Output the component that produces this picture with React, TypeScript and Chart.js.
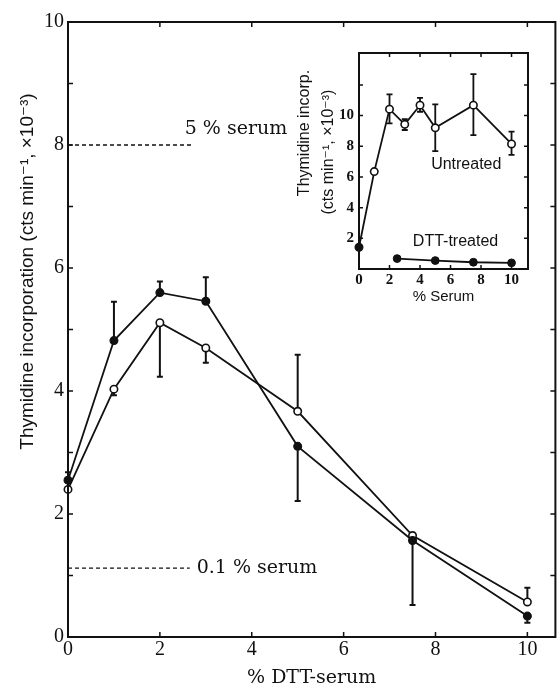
import React, { useEffect, useRef } from 'react';
import { Chart, registerables } from 'chart.js';

Chart.register(...registerables);

// ---------- Main panel data ----------
const dttSerumPct = [0, 1, 2, 3, 5, 7.5, 10];
const filledY = [2.55, 4.82, 5.6, 5.46, 3.1, 1.57, 0.34];
const filledHi = [2.68, 5.45, 5.78, 5.85, null, null, null];
const filledLo = [null, null, null, null, 2.21, 0.52, 0.23];
const openY = [2.4, 4.03, 5.11, 4.7, 3.67, 1.65, 0.57];
const openHi = [null, null, null, null, 4.59, null, 0.8];
const openLo = [null, 3.93, 4.23, 4.46, null, null, null];

const refLabels = ['5 % serum', '0.1 % serum'];
const refY = [8, 1.12];
const refLineEndX = [2.68, 2.65];
const refLabelX = [2.54, 2.8];
const refLabelY = [8.26, 1.12];

const mainXTicks = [0, 2, 4, 6, 8, 10];
const mainYTicks = [0, 2, 4, 6, 8, 10];
const mainXMarks = [2, 4, 6, 8, 10];
const mainYMarks = [1, 2, 3, 4, 5, 6, 7, 8, 9];
const mainXTitle = '% DTT-serum';
const mainYTitle = ['Thymidine incorporation (cts min\u207B\u00B9, \u00D710\u207B\u00B3)'];

// ---------- Inset data ----------
const serumPct = [0, 1, 2, 3, 4, 5, 7.5, 10];
const untreatedY = [1.42, 6.35, 10.42, 9.43, 10.68, 9.2, 10.68, 8.15];
const untreatedHi = [null, null, 11.38, 9.77, 11.16, 10.73, 12.7, 8.95];
const untreatedLo = [null, null, 9.49, 9.06, 10.25, 7.69, 8.73, 7.44];
const dttSerumPctInset = [2.5, 5, 7.5, 10];
const dttTreatedY = [0.68, 0.55, 0.44, 0.4];

const insetXTicks = [0, 2, 4, 6, 8, 10];
const insetYTicks = [2, 4, 6, 8, 10];
const insetXMarks = [2, 4, 6, 8, 10];
const insetYMarks = [2, 4, 6, 8, 10, 12];
const insetLabels = ['Untreated', 'DTT-treated'];
const insetLabelX = [4.73, 3.53];
const insetLabelY = [6.79, 1.8];
const insetXTitle = '% Serum';
const insetYTitle = ['Thymidine incorp.', '(cts min\u207B\u00B9, \u00D710\u207B\u00B3)'];

const INK = '#111';
const SERIF = "'DejaVu Serif', 'Liberation Serif', serif";
const TSERIF = "'Liberation Serif', 'DejaVu Serif', serif";
const SANS = "'Liberation Sans', 'DejaVu Sans', sans-serif";

const setTicks = (vals: number[]) => (scale: any) => {
  scale.ticks = vals.map((v) => ({ value: v }));
};
const zeroPad = (s: any) => {
  s.paddingLeft = 0;
  s.paddingRight = 0;
  s.paddingTop = 0;
  s.paddingBottom = 0;
};
const fixWidth = (w: number) => (s: any) => {
  s.width = w;
  zeroPad(s);
};
const fixHeight = (h: number) => (s: any) => {
  s.height = h;
  zeroPad(s);
};

function framePlugin(id: string, xMarks: number[], yMarks: number[], len: number, lw: number) {
  return {
    id,
    afterDraw(chart: any) {
      const { ctx, chartArea: a, scales } = chart;
      const x = scales.x;
      const y = scales.y;
      ctx.save();
      ctx.strokeStyle = INK;
      ctx.lineWidth = lw;
      ctx.strokeRect(a.left, a.top, a.right - a.left, a.bottom - a.top);
      ctx.lineWidth = 1.5;
      ctx.beginPath();
      for (const v of xMarks) {
        const px = x.getPixelForValue(v);
        ctx.moveTo(px, a.bottom);
        ctx.lineTo(px, a.bottom - len);
        ctx.moveTo(px, a.top);
        ctx.lineTo(px, a.top + len);
      }
      for (const v of yMarks) {
        const py = y.getPixelForValue(v);
        ctx.moveTo(a.left, py);
        ctx.lineTo(a.left + len, py);
        ctx.moveTo(a.right, py);
        ctx.lineTo(a.right - len, py);
      }
      ctx.stroke();
      ctx.restore();
    },
  };
}

function errorBarPlugin(id: string, cap: number, lw: number) {
  return {
    id,
    afterDatasetsDraw(chart: any) {
      const { ctx } = chart;
      ctx.save();
      ctx.strokeStyle = INK;
      ctx.lineWidth = lw;
      chart.data.datasets.forEach((ds: any, i: number) => {
        if (!ds.errHi && !ds.errLo) return;
        const meta = chart.getDatasetMeta(i);
        const ys = chart.scales[meta.yAxisID];
        meta.data.forEach((pt: any, j: number) => {
          const hi = ds.errHi ? ds.errHi[j] : null;
          const lo = ds.errLo ? ds.errLo[j] : null;
          const px = pt.x;
          const ends: number[] = [];
          if (hi != null) ends.push(ys.getPixelForValue(hi));
          if (lo != null) ends.push(ys.getPixelForValue(lo));
          for (const e of ends) {
            const start = e < pt.y ? pt.y - ds.pointRadius : pt.y + ds.pointRadius;
            ctx.beginPath();
            ctx.moveTo(px, start);
            ctx.lineTo(px, e);
            ctx.moveTo(px - cap, e);
            ctx.lineTo(px + cap, e);
            ctx.stroke();
          }
        });
      });
      ctx.restore();
    },
  };
}

function textPlugin(id: string, labels: string[], xs: number[], ys: number[], font: string) {
  return {
    id,
    afterDraw(chart: any) {
      const { ctx, scales } = chart;
      ctx.save();
      ctx.fillStyle = INK;
      ctx.font = font;
      ctx.textAlign = 'left';
      ctx.textBaseline = 'middle';
      labels.forEach((t, i) => {
        ctx.fillText(t, scales.x.getPixelForValue(xs[i]), scales.y.getPixelForValue(ys[i]));
      });
      ctx.restore();
    },
  };
}

// vertical axis title lines, each centred at an offset from the chart area's left/middle
function yTitlePlugin(id: string, lines: string[], dx: number[], dy: number[], font: string) {
  return {
    id,
    afterDraw(chart: any) {
      const { ctx, chartArea: a } = chart;
      const midY = (a.top + a.bottom) / 2;
      ctx.save();
      ctx.fillStyle = INK;
      ctx.font = font;
      ctx.textAlign = 'center';
      ctx.textBaseline = 'middle';
      lines.forEach((t, i) => {
        ctx.save();
        ctx.translate(a.left + dx[i], midY + dy[i]);
        ctx.rotate(-Math.PI / 2);
        ctx.fillText(t, 0, 0);
        ctx.restore();
      });
      ctx.restore();
    },
  };
}

const pts = (xs: number[], ys: number[]) => xs.map((x, i) => ({ x, y: ys[i] }));

export default function App() {
  const mainRef = useRef<HTMLCanvasElement>(null);
  const insetRef = useRef<HTMLCanvasElement>(null);

  useEffect(() => {
    const main = new Chart(mainRef.current as HTMLCanvasElement, {
      type: 'line',
      data: {
        datasets: [
          {
            label: 'Filled symbols',
            data: pts(dttSerumPct, filledY),
            borderColor: INK,
            borderWidth: 1.8,
            pointRadius: 3.9,
            pointBackgroundColor: INK,
            pointBorderColor: INK,
            pointBorderWidth: 1.2,
            tension: 0,
            clip: false,
            errHi: filledHi,
            errLo: filledLo,
          } as any,
          {
            label: 'Open symbols',
            data: pts(dttSerumPct, openY),
            borderColor: INK,
            borderWidth: 1.8,
            pointRadius: 3.7,
            pointBackgroundColor: '#fff',
            pointBorderColor: INK,
            pointBorderWidth: 1.6,
            tension: 0,
            clip: false,
            errHi: openHi,
            errLo: openLo,
          } as any,
          ...refY.map((yv, i) => ({
            label: refLabels[i],
            data: [
              { x: 0, y: yv },
              { x: refLineEndX[i], y: yv },
            ],
            borderColor: INK,
            borderWidth: 1.4,
            borderDash: [4, 3],
            pointRadius: 0,
            clip: false,
          })),
        ],
      },
      options: {
        animation: false,
        responsive: false,
        events: [],
        layout: { padding: { left: 18, top: 22, right: 1, bottom: 0 } },
        plugins: { legend: { display: false }, tooltip: { enabled: false } },
        scales: {
          x: {
            type: 'linear',
            min: 0,
            max: 10.61,
            afterBuildTicks: setTicks(mainXTicks),
            afterFit: fixHeight(52),
            grid: { display: false, drawTicks: false },
            border: { display: false },
            ticks: { padding: 1, autoSkip: false, maxRotation: 0, color: INK, font: { family: TSERIF, size: 20 } },
            title: { display: true, text: mainXTitle, color: INK, padding: 0, font: { family: SERIF, size: 19 } },
          },
          y: {
            type: 'linear',
            min: 0,
            max: 10,
            afterBuildTicks: setTicks(mainYTicks),
            afterFit: fixWidth(50),
            grid: { display: false, drawTicks: false },
            border: { display: false },
            ticks: { padding: 4, color: INK, font: { family: TSERIF, size: 20 } },
            title: { display: false },
          },
        },
      } as any,
      plugins: [
        framePlugin('mainFrame', mainXMarks, mainYMarks, 5, 2),
        errorBarPlugin('mainErr', 3, 2),
        textPlugin('mainText', refLabels, refLabelX, refLabelY, `19px ${SERIF}`),
        yTitlePlugin('mainYTitle', mainYTitle, [-40], [-58], `19px ${SANS}`),
      ],
    });

    const inset = new Chart(insetRef.current as HTMLCanvasElement, {
      type: 'line',
      data: {
        datasets: [
          {
            label: 'Untreated',
            data: pts(serumPct, untreatedY),
            borderColor: INK,
            borderWidth: 1.8,
            pointRadius: 3.7,
            pointBackgroundColor: serumPct.map((_, i) => (i === 0 ? INK : '#fff')),
            pointBorderColor: INK,
            pointBorderWidth: 1.6,
            tension: 0,
            clip: false,
            errHi: untreatedHi,
            errLo: untreatedLo,
          } as any,
          {
            label: 'DTT-treated',
            data: pts(dttSerumPctInset, dttTreatedY),
            borderColor: INK,
            borderWidth: 1.8,
            pointRadius: 3.9,
            pointBackgroundColor: INK,
            pointBorderColor: INK,
            pointBorderWidth: 1,
            tension: 0,
            clip: false,
          },
        ],
      },
      options: {
        animation: false,
        responsive: false,
        events: [],
        layout: { padding: { left: 8, top: 13, right: 17, bottom: 0 } },
        plugins: { legend: { display: false }, tooltip: { enabled: false } },
        scales: {
          x: {
            type: 'linear',
            min: 0,
            max: 11.08,
            afterBuildTicks: setTicks(insetXTicks),
            afterFit: fixHeight(37),
            grid: { display: false, drawTicks: false },
            border: { display: false },
            ticks: { padding: 2, autoSkip: false, maxRotation: 0, color: INK, font: { family: TSERIF, size: 15, weight: 'bold' } },
            title: { display: true, text: insetXTitle, color: INK, padding: 0, font: { family: SANS, size: 15 } },
          },
          y: {
            type: 'linear',
            min: 0,
            max: 14.08,
            afterBuildTicks: setTicks(insetYTicks),
            afterFit: fixWidth(65),
            grid: { display: false, drawTicks: false },
            border: { display: false },
            ticks: { padding: 5, color: INK, font: { family: TSERIF, size: 15, weight: 'bold' } },
            title: { display: false },
          },
        },
      } as any,
      plugins: [
        framePlugin('insetFrame', insetXMarks, insetYMarks, 4, 2),
        errorBarPlugin('insetErr', 3, 1.8),
        textPlugin('insetText', insetLabels, insetLabelX, insetLabelY, `16px ${SANS}`),
        yTitlePlugin('insetYTitle', insetYTitle, [-54, -30], [-28, -9], `16px ${SANS}`),
      ],
    });

    return () => {
      main.destroy();
      inset.destroy();
    };
  }, []);

  return (
    <div style={{ position: 'fixed', left: 0, top: 0, width: 557, height: 689, overflow: 'hidden', background: '#fff' }}>
      <canvas ref={mainRef} width={561} height={689} style={{ position: 'absolute', left: 0, top: 0 }} />
      <canvas ref={insetRef} width={259} height={266} style={{ position: 'absolute', left: 286, top: 40 }} />
    </div>
  );
}
